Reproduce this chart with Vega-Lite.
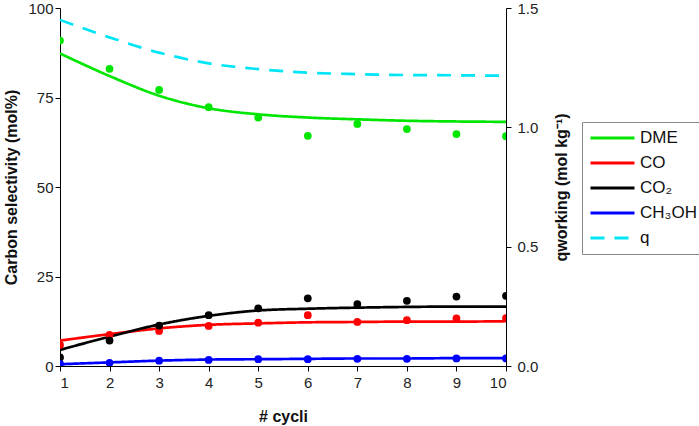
{
  "$schema": "https://vega.github.io/schema/vega-lite/v6.json",
  "width": 446,
  "height": 358,
  "autosize": {"type": "none"},
  "padding": {"left": 60, "top": 8, "right": 193, "bottom": 60},
  "config": {
    "view": {"stroke": null},
    "font": "Liberation Sans",
    "axis": {
      "grid": false,
      "domainColor": "#000000",
      "tickColor": "#000000",
      "labelColor": "#222222",
      "labelFontSize": 15,
      "titleFontSize": 16,
      "titleFontWeight": "bold",
      "titleColor": "#111111",
      "tickSize": 5
    },
    "legend": {"labelFontSize": 17, "labelColor": "#111111"}
  },
  "datasets": {
    "fit": [
      {"cycle": 1, "series": "DME", "value": 87.3},
      {"cycle": 2, "series": "DME", "value": 81.0},
      {"cycle": 3, "series": "DME", "value": 75.5},
      {"cycle": 4, "series": "DME", "value": 72.0},
      {"cycle": 5, "series": "DME", "value": 70.3},
      {"cycle": 6, "series": "DME", "value": 69.4},
      {"cycle": 7, "series": "DME", "value": 68.9},
      {"cycle": 8, "series": "DME", "value": 68.5},
      {"cycle": 9, "series": "DME", "value": 68.3},
      {"cycle": 10, "series": "DME", "value": 68.2},
      {"cycle": 1, "series": "CO", "value": 7.1},
      {"cycle": 2, "series": "CO", "value": 8.9},
      {"cycle": 3, "series": "CO", "value": 10.5},
      {"cycle": 4, "series": "CO", "value": 11.5},
      {"cycle": 5, "series": "CO", "value": 11.9},
      {"cycle": 6, "series": "CO", "value": 12.2},
      {"cycle": 7, "series": "CO", "value": 12.3},
      {"cycle": 8, "series": "CO", "value": 12.4},
      {"cycle": 9, "series": "CO", "value": 12.4},
      {"cycle": 10, "series": "CO", "value": 12.5},
      {"cycle": 1, "series": "CO₂", "value": 4.5},
      {"cycle": 2, "series": "CO₂", "value": 8.2},
      {"cycle": 3, "series": "CO₂", "value": 11.6},
      {"cycle": 4, "series": "CO₂", "value": 14.0},
      {"cycle": 5, "series": "CO₂", "value": 15.5},
      {"cycle": 6, "series": "CO₂", "value": 16.0},
      {"cycle": 7, "series": "CO₂", "value": 16.3},
      {"cycle": 8, "series": "CO₂", "value": 16.5},
      {"cycle": 9, "series": "CO₂", "value": 16.6},
      {"cycle": 10, "series": "CO₂", "value": 16.6},
      {"cycle": 1, "series": "CH₃OH", "value": 0.5},
      {"cycle": 2, "series": "CH₃OH", "value": 1.0},
      {"cycle": 3, "series": "CH₃OH", "value": 1.5},
      {"cycle": 4, "series": "CH₃OH", "value": 1.8},
      {"cycle": 5, "series": "CH₃OH", "value": 1.9},
      {"cycle": 6, "series": "CH₃OH", "value": 2.0},
      {"cycle": 7, "series": "CH₃OH", "value": 2.1},
      {"cycle": 8, "series": "CH₃OH", "value": 2.1},
      {"cycle": 9, "series": "CH₃OH", "value": 2.2},
      {"cycle": 10, "series": "CH₃OH", "value": 2.2}
    ],
    "meas": [
      {"cycle": 1, "series": "DME", "value": 90.9},
      {"cycle": 2, "series": "DME", "value": 83.0},
      {"cycle": 3, "series": "DME", "value": 77.1},
      {"cycle": 4, "series": "DME", "value": 72.3},
      {"cycle": 5, "series": "DME", "value": 69.4},
      {"cycle": 6, "series": "DME", "value": 64.3},
      {"cycle": 7, "series": "DME", "value": 67.6},
      {"cycle": 8, "series": "DME", "value": 66.2},
      {"cycle": 9, "series": "DME", "value": 64.8},
      {"cycle": 10, "series": "DME", "value": 64.2},
      {"cycle": 1, "series": "CO", "value": 5.9},
      {"cycle": 2, "series": "CO", "value": 8.7},
      {"cycle": 3, "series": "CO", "value": 9.8},
      {"cycle": 4, "series": "CO", "value": 11.2},
      {"cycle": 5, "series": "CO", "value": 12.1},
      {"cycle": 6, "series": "CO", "value": 14.2},
      {"cycle": 7, "series": "CO", "value": 12.3},
      {"cycle": 8, "series": "CO", "value": 12.8},
      {"cycle": 9, "series": "CO", "value": 13.3},
      {"cycle": 10, "series": "CO", "value": 13.4},
      {"cycle": 1, "series": "CO₂", "value": 2.4},
      {"cycle": 2, "series": "CO₂", "value": 7.1},
      {"cycle": 3, "series": "CO₂", "value": 11.3},
      {"cycle": 4, "series": "CO₂", "value": 14.2},
      {"cycle": 5, "series": "CO₂", "value": 16.1},
      {"cycle": 6, "series": "CO₂", "value": 18.9},
      {"cycle": 7, "series": "CO₂", "value": 17.3},
      {"cycle": 8, "series": "CO₂", "value": 18.2},
      {"cycle": 9, "series": "CO₂", "value": 19.4},
      {"cycle": 10, "series": "CO₂", "value": 19.6},
      {"cycle": 1, "series": "CH₃OH", "value": 0.6},
      {"cycle": 2, "series": "CH₃OH", "value": 0.9},
      {"cycle": 3, "series": "CH₃OH", "value": 1.5},
      {"cycle": 4, "series": "CH₃OH", "value": 1.7},
      {"cycle": 5, "series": "CH₃OH", "value": 1.9},
      {"cycle": 6, "series": "CH₃OH", "value": 1.9},
      {"cycle": 7, "series": "CH₃OH", "value": 2.0},
      {"cycle": 8, "series": "CH₃OH", "value": 2.0},
      {"cycle": 9, "series": "CH₃OH", "value": 2.1},
      {"cycle": 10, "series": "CH₃OH", "value": 2.1}
    ],
    "q": [
      {"cycle": 1, "series": "q", "q": 1.450},
      {"cycle": 2, "series": "q", "q": 1.377},
      {"cycle": 3, "series": "q", "q": 1.313},
      {"cycle": 4, "series": "q", "q": 1.268},
      {"cycle": 5, "series": "q", "q": 1.244},
      {"cycle": 6, "series": "q", "q": 1.229},
      {"cycle": 7, "series": "q", "q": 1.223},
      {"cycle": 8, "series": "q", "q": 1.219},
      {"cycle": 9, "series": "q", "q": 1.218},
      {"cycle": 10, "series": "q", "q": 1.216}
    ]
  },
  "encoding": {
    "x": {
      "field": "cycle",
      "type": "quantitative",
      "scale": {"domain": [1, 10], "nice": false, "zero": false},
      "axis": {"values": [1, 2, 3, 4, 5, 6, 7, 8, 9, 10], "title": "# cycli", "titlePadding": 18, "labelPadding": 4}
    },
    "color": {
      "field": "series",
      "type": "nominal",
      "scale": {
        "domain": ["DME", "CO", "CO₂", "CH₃OH", "q"],
        "range": ["#00e600", "#ff0000", "#000000", "#0000ff", "#00e5f5"]
      },
      "legend": {
        "title": null,
        "orient": "none",
        "legendX": 522,
        "legendY": 114,
        "symbolType": "stroke",
        "symbolSize": 1936,
        "symbolStrokeWidth": 3,
        "clipHeight": 18,
        "strokeColor": "#888888",
        "padding": 7,
        "rowPadding": 7,
        "labelOffset": 4
      }
    }
  },
  "layer": [
    {
      "encoding": {
        "y": {
          "field": "value",
          "type": "quantitative",
          "scale": {"domain": [0, 100], "nice": false},
          "axis": {"orient": "left", "values": [0, 25, 50, 75, 100], "title": "Carbon selectivity (mol%)", "titlePadding": 8}
        }
      },
      "layer": [
        {
          "data": {"name": "fit"},
          "mark": {"type": "line", "interpolate": "monotone", "strokeWidth": 2.7, "clip": true},
          "encoding": {
            "strokeDash": {
              "field": "series",
              "type": "nominal",
              "scale": {
                "domain": ["DME", "CO", "CO₂", "CH₃OH", "q"],
                "range": [[1, 0], [1, 0], [1, 0], [1, 0], [14, 10]]
              },
              "legend": {"title": null}
            }
          }
        },
        {
          "data": {"name": "meas"},
          "mark": {"type": "point", "filled": true, "size": 60, "opacity": 1, "clip": true}
        }
      ]
    },
    {
      "data": {"name": "q"},
      "mark": {"type": "line", "interpolate": "monotone", "strokeWidth": 2.7, "clip": true},
      "encoding": {
        "y": {
          "field": "q",
          "type": "quantitative",
          "scale": {"domain": [0, 1.5], "nice": false},
          "axis": {"orient": "right", "values": [0, 0.5, 1, 1.5], "format": ".1f", "labelPadding": 6, "title": "qworking (mol kg⁻¹)", "titleAngle": 270, "titleBaseline": "top", "titlePadding": 16}
        },
        "strokeDash": {
          "field": "series",
          "type": "nominal",
          "scale": {
            "domain": ["DME", "CO", "CO₂", "CH₃OH", "q"],
            "range": [[1, 0], [1, 0], [1, 0], [1, 0], [14, 10]]
          },
          "legend": {"title": null}
        }
      }
    }
  ],
  "resolve": {"scale": {"y": "independent"}}
}
